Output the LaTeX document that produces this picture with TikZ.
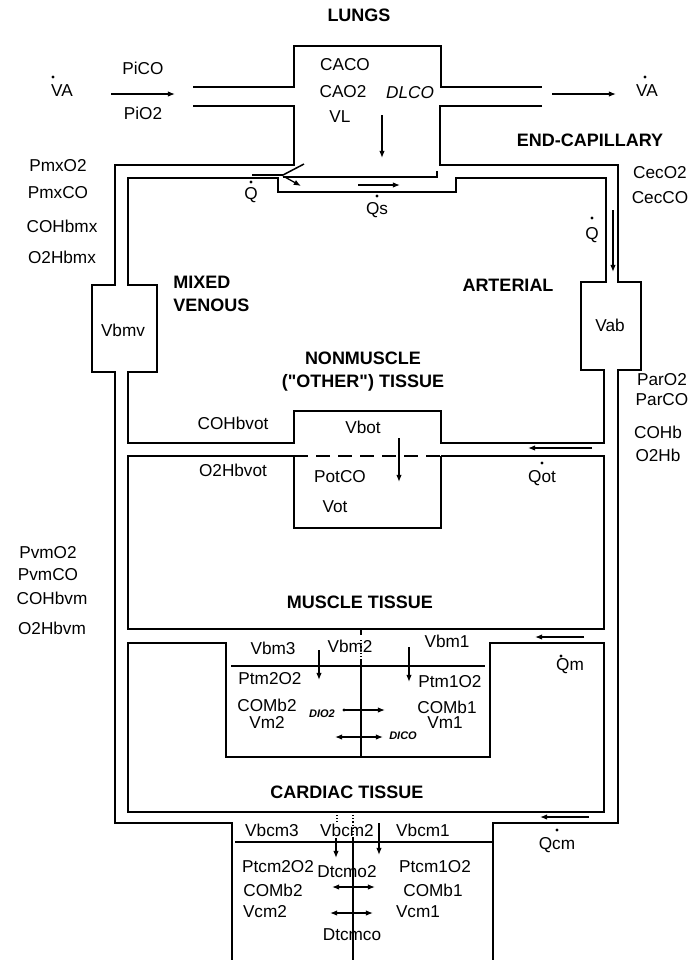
\documentclass[tikz,border=0pt]{standalone}
\usepackage{fontspec}
\setmainfont{Liberation Sans}
\newfontfamily\plainbold{Liberation Sans Bold}[Ligatures=ResetAll]
\usetikzlibrary{arrows.meta}
\begin{document}
\begin{tikzpicture}[x=0.5pt,y=-0.5pt,
  wall/.style={line width=0.75pt,line join=miter},
  flow/.style={line width=0.65pt,-{Latex[length=3.6pt,width=2.8pt]}},
  dflow/.style={line width=0.65pt,{Latex[length=3.6pt,width=2.8pt]}-{Latex[length=3.6pt,width=2.8pt]}},
  lbl/.style={inner sep=0pt,font=\fontsize{8.6}{9}\selectfont},
  hd/.style={inner sep=0pt,font=\fontsize{9}{10}\selectfont\bfseries},
  fdot/.style={fill=black,draw=none}]
\useasboundingbox (0,0) rectangle (697,960);

% ---------- vessel walls ----------
\draw[wall] (193,87) -- (294,87) -- (294,46) -- (441,46) -- (441,87) -- (542,87);
\draw[wall] (193,106) -- (294,106) -- (294,165) -- (115,165) -- (115,285) -- (92,285)
   -- (92,372) -- (115,372) -- (115,823) -- (232,823) -- (232,960);
\draw[wall] (542,106) -- (440,106) -- (440,165) -- (618,165) -- (618,282) -- (641,282)
   -- (641,370) -- (618,370) -- (618,823) -- (493,823) -- (493,960);
% nonmuscle region
\draw[wall] (294,443) -- (128,443) -- (128,372) -- (157,372) -- (157,285) -- (128,285)
   -- (128,178) -- (278,178) -- (278,192) -- (456,192) -- (456,178) -- (606,178)
   -- (606,282) -- (581,282) -- (581,370) -- (604,370) -- (604,443) -- (441,443)
   -- (441,411) -- (294,411) -- cycle;
% lung capillary line
\draw[wall] (437,171) -- (437,177) -- (283,177);
\draw[wall] (283,175) -- (252,175);
\draw[wall] (283,175) -- (304,164);
\draw[flow] (283,176) -- (301,186);
% muscle region
\draw[wall] (294,456) -- (128,456) -- (128,629) -- (604,629) -- (604,456) -- (441,456);
\draw[wall,dashed,dash pattern=on 7pt off 4pt] (294,456) -- (441,456);
\draw[wall] (294,456) -- (294,528) -- (441,528) -- (441,456);
\draw[wall] (361,629) -- (361,635);
% cardiac region
\draw[wall] (604,643) -- (490,643) -- (490,757) -- (226,757) -- (226,643) -- (128,643)
   -- (128,812) -- (604,812) -- cycle;
\draw[wall] (231,666) -- (485,666);
\draw[wall] (361,660) -- (361,757);
\draw[line width=0.6pt,densely dotted] (361,640) -- (361,660);
% cardiac tissue box
\draw[wall] (235,842) -- (493,842);
\draw[wall] (353,838) -- (353,960);
\draw[line width=0.6pt,densely dotted] (353,815) -- (353,838);
\draw[line width=0.6pt,densely dotted] (337,815) -- (337,822);

% ---------- text ----------
\node[hd] (lungs) at (359,15) {LUNGS};
\node[lbl] (vain) at (62,91) {VA};
\node[lbl] (pico) at (143,68) {PiCO};
\node[lbl] (pio2) at (143,113) {PiO2};
\node[lbl] (caco) at (345,65) {CACO};
\node[lbl] (cao2) at (343,92) {CAO2};
\node[lbl] (vl) at (340,117) {VL};
\node[lbl,font=\fontsize{8.6}{9}\selectfont\itshape] (dlco) at (410,93) {DLCO};
\node[lbl] (vaout) at (647,91) {VA};
\node[hd] (endcap) at (590,140) {END-CAPILLARY};
\node[lbl] (ceco2) at (660,173) {CecO2};
\node[lbl] (cecco) at (660,198) {CecCO};
\node[lbl] (pmxo2) at (58,166) {PmxO2};
\node[lbl] (pmxco) at (58,193) {PmxCO};
\node[lbl] (cohbmx) at (62,226) {COHbmx};
\node[lbl] (o2hbmx) at (62,257) {O2Hbmx};
\node[lbl] (ql) at (251,195) {Q};
\node[lbl] (qs) at (377,210) {Qs};
\node[lbl] (qr) at (592,235) {Q};
\node[hd,anchor=west] (mixed) at (173,282) {MIXED};
\node[hd,anchor=west] (venous) at (173,305) {VENOUS};
\node[hd] (arterial) at (508,285) {ARTERIAL};
\node[lbl] (vbmv) at (123,330) {Vbmv};
\node[lbl] (vab) at (610,325) {Vab};
\node[hd] (nonm) at (363,358) {NONMUSCLE};
\node[inner sep=0pt,font=\fontsize{9}{10}\selectfont\plainbold] (other) at (363,383) {("OTHER") TISSUE};
\node[lbl] (paro2) at (662,380) {ParO2};
\node[lbl] (parco) at (662,400) {ParCO};
\node[lbl] (cohb) at (658,432) {COHb};
\node[lbl] (o2hb) at (658,455) {O2Hb};
\node[lbl] (cohbvot) at (233,423) {COHbvot};
\node[lbl] (o2hbvot) at (233,470) {O2Hbvot};
\node[lbl] (vbot) at (363,427) {Vbot};
\node[lbl] (potco) at (340,477) {PotCO};
\node[lbl] (vot) at (335,507) {Vot};
\node[lbl] (qot) at (542,478) {Qot};
\node[lbl] (pvmo2) at (48,553) {PvmO2};
\node[lbl] (pvmco) at (48,575) {PvmCO};
\node[lbl] (cohbvm) at (52,598) {COHbvm};
\node[lbl] (o2hbvm) at (52,628) {O2Hbvm};
\node[hd] (muscle) at (360,602) {MUSCLE TISSUE};
\node[lbl] (vbm3) at (273,648) {Vbm3};
\node[lbl] (vbm2) at (350,646) {Vbm2};
\node[lbl] (vbm1) at (447,641) {Vbm1};
\node[lbl] (qm) at (570,666) {Qm};
\node[lbl] (ptm2o2) at (270,679) {Ptm2O2};
\node[lbl] (ptm1o2) at (450,682) {Ptm1O2};
\node[lbl] (comb2) at (267,705) {COMb2};
\node[lbl] (vm2) at (267,722) {Vm2};
\node[lbl] (comb1) at (447,707) {COMb1};
\node[lbl] (vm1) at (445,723) {Vm1};
\node[inner sep=0pt,font=\fontsize{5.5}{6}\selectfont\bfseries\itshape] (dio2) at (322,714) {DIO2};
\node[inner sep=0pt,font=\fontsize{5.5}{6}\selectfont\bfseries\itshape] (dico) at (403,736) {DICO};
\node[hd] (cardiac) at (347,792) {CARDIAC TISSUE};
\node[lbl] (qcm) at (557,845) {Qcm};
\node[lbl] (vbcm3) at (272,830) {Vbcm3};
\node[lbl] (vbcm2) at (347,830) {Vbcm2};
\node[lbl] (vbcm1) at (423,830) {Vbcm1};
\node[lbl] (ptcm2o2) at (278,867) {Ptcm2O2};
\node[lbl] (dtcmo2) at (347,872) {Dtcmo2};
\node[lbl] (ptcm1o2) at (435,867) {Ptcm1O2};
\node[lbl] (comb2c) at (273,890) {COMb2};
\node[lbl] (comb1c) at (433,890) {COMb1};
\node[lbl] (vcm2) at (265,912) {Vcm2};
\node[lbl] (vcm1) at (418,912) {Vcm1};
\node[lbl] (dtcmco) at (352,935) {Dtcmco};

% flux dots
\foreach \p in {(53,77),(645,77),(251,182),(377,196),(592,218),(542,463),(561,656),(557,830)}
  \fill[fdot] \p circle (1.6);

% ---------- arrows ----------
\draw[flow] (111,94) -- (175,94);
\draw[flow] (552,94) -- (616,94);
\draw[flow] (382,115) -- (382,158);
\draw[flow] (358,185) -- (400,185);
\draw[flow] (613,210) -- (613,272);
\draw[flow] (399,438) -- (399,482);
\draw[flow] (592,448) -- (528,448);
\draw[flow] (319,650) -- (319,680);
\draw[flow] (409,647) -- (409,682);
\fill (344,710) circle (1.6);
\draw[flow] (344,710) -- (385,710);
\draw[dflow] (335,737) -- (383,737);
\draw[flow] (584,637) -- (535,637);
\draw[flow] (589,817) -- (540,817);
\draw[flow] (336,838) -- (336,858);
\draw[flow] (379,823) -- (379,855);
\draw[dflow] (332,887) -- (375,887);
\draw[dflow] (330,913) -- (373,913);
\end{tikzpicture}
\end{document}
